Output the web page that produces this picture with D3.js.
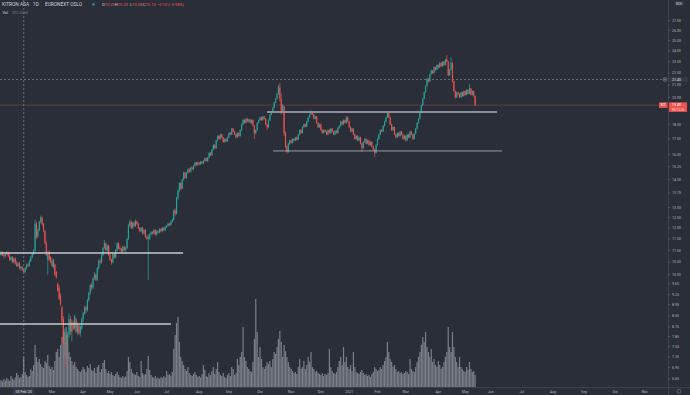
<!DOCTYPE html>
<html><head><meta charset="utf-8">
<script src="https://cdn.jsdelivr.net/npm/d3@7"></script>
<style>html,body{margin:0;padding:0;background:#2a2e39;overflow:hidden}</style>
</head><body><svg id="c" width="690" height="395"></svg>
<script>
// ---------- DATA (Kitron ASA, daily, NOK) ----------
const open=[10.70,10.85,10.75,10.85,10.80,10.85,10.80,10.90,10.80,10.75,10.85,10.90,10.75,10.60,10.70,10.50,10.65,10.45,10.35,10.45,10.25,10.30,10.20,10.10,10.25,10.40,10.35,10.55,10.70,10.85,
11.00,12.20,11.60,11.90,12.30,12.50,12.20,11.85,11.30,10.60,10.90,10.70,10.55,10.30,10.40,10.10,9.65,9.50,9.20,8.80,8.40,7.70,7.90,7.30,7.90,8.40,8.00,8.30,8.10,8.40,
8.00,8.20,7.95,8.10,8.40,8.60,8.80,8.70,9.05,9.30,9.60,9.50,9.85,10.00,9.80,10.25,10.55,10.50,10.80,11.10,11.30,11.00,11.20,10.80,10.60,10.50,10.85,10.70,11.00,11.30,
11.10,11.05,10.95,11.15,11.00,11.10,11.50,12.10,12.30,12.00,12.25,12.10,12.30,12.20,12.00,11.85,12.00,11.75,11.90,11.60,11.50,11.50,11.70,11.80,11.75,11.90,11.70,11.85,11.80,11.95,
11.85,12.00,11.90,12.05,12.10,12.20,12.15,12.30,12.40,12.85,12.70,13.50,13.90,14.30,14.00,14.50,14.90,14.60,14.90,15.10,14.95,15.20,15.10,15.30,15.50,15.35,15.50,15.40,15.55,15.45,
15.60,15.75,15.60,15.80,16.10,15.95,16.30,16.60,16.40,16.90,17.20,17.00,17.30,17.10,16.80,17.00,16.85,17.10,17.40,17.30,17.70,17.50,17.30,17.10,17.40,17.20,17.60,18.00,18.30,18.10,
18.40,18.20,18.35,18.10,18.30,17.90,17.40,17.60,18.10,18.30,18.50,18.30,18.55,18.40,18.00,17.80,18.30,18.70,18.90,19.20,19.60,19.90,20.30,20.80,19.90,18.90,19.30,17.40,16.50,16.15,
16.70,16.90,16.75,17.00,16.90,17.10,16.95,17.30,17.60,17.40,17.80,18.00,17.85,18.20,18.50,18.70,18.90,18.70,18.40,18.55,18.10,17.80,18.00,17.60,17.40,17.60,17.50,17.30,17.60,17.40,
17.70,17.50,17.30,17.55,17.40,17.75,17.90,18.20,18.00,18.30,18.10,18.50,18.20,17.80,17.50,17.70,17.30,17.00,17.20,16.90,17.10,16.70,16.40,16.80,17.00,16.70,16.90,16.60,16.80,16.50,
16.30,16.10,16.60,17.00,17.30,17.60,17.50,17.90,18.20,18.50,18.80,18.50,18.00,17.60,17.80,17.30,17.10,17.40,17.20,17.50,17.30,17.00,17.20,16.90,17.30,17.10,17.50,17.30,17.00,17.35,
17.70,18.10,18.40,18.90,19.40,19.90,20.40,20.90,21.50,21.30,21.90,22.20,22.00,22.50,22.30,22.70,22.50,22.90,22.60,23.00,22.70,23.20,23.00,21.80,22.30,22.90,21.30,20.50,20.00,20.40,
20.30,20.00,20.40,20.10,20.50,20.20,20.60,20.30,20.70,20.20,20.50,20.10];
const high=[10.90,10.95,10.90,10.95,10.90,10.95,10.95,10.95,10.85,10.90,10.95,10.95,10.85,10.75,10.75,10.70,10.70,10.55,10.50,10.50,10.35,10.35,10.20,10.30,10.45,10.45,10.60,10.75,10.90,11.05,
12.40,12.30,12.00,12.35,12.60,12.55,12.25,11.90,11.40,10.95,11.00,10.75,10.65,10.65,10.45,10.15,9.70,9.60,9.30,8.85,8.50,8.10,7.95,8.00,8.60,8.50,8.40,8.35,8.55,8.45,
8.30,8.25,8.20,8.45,8.65,8.85,8.85,9.10,9.35,9.65,9.70,9.90,10.10,10.05,10.30,10.60,10.65,10.85,11.15,11.45,11.35,11.25,11.25,10.85,10.65,10.90,10.90,11.05,11.35,11.35,
11.20,11.10,11.20,11.20,11.15,11.55,12.20,12.40,12.35,12.30,12.30,12.40,12.35,12.25,12.05,12.05,12.05,11.95,11.95,11.65,11.70,11.75,11.85,11.85,11.95,11.95,11.90,11.90,12.00,12.00,
12.05,12.05,12.10,12.15,12.25,12.25,12.35,12.45,12.90,12.95,13.55,13.95,14.35,14.35,14.55,14.95,14.95,14.95,15.15,15.15,15.25,15.25,15.35,15.55,15.55,15.55,15.55,15.60,15.60,15.65,
15.80,15.80,15.85,16.15,16.15,16.35,16.65,16.65,16.95,17.25,17.25,17.35,17.35,17.15,17.05,17.05,17.15,17.45,17.45,17.75,17.75,17.55,17.35,17.45,17.45,17.65,18.05,18.40,18.35,18.45,
18.45,18.40,18.40,18.35,18.35,17.95,17.65,18.15,18.35,18.55,18.55,18.60,18.60,18.45,18.05,18.35,18.75,18.95,19.25,19.65,19.95,20.35,21.00,21.15,20.30,19.50,19.35,17.50,16.60,16.75,
16.95,16.95,17.05,17.05,17.15,17.15,17.35,17.65,17.65,17.85,18.05,18.05,18.25,18.55,18.75,19.00,18.95,18.75,18.60,18.60,18.15,18.05,18.05,17.65,17.65,17.65,17.55,17.65,17.65,17.75,
17.75,17.55,17.60,17.60,17.80,17.95,18.25,18.25,18.35,18.35,18.60,18.55,18.25,17.85,17.75,17.75,17.35,17.25,17.25,17.15,17.15,16.75,16.85,17.05,17.05,16.95,16.95,16.85,16.85,16.55,
16.35,16.65,17.05,17.35,17.65,17.65,17.95,18.25,18.55,18.95,18.85,18.55,18.05,17.85,17.85,17.35,17.45,17.45,17.55,17.55,17.35,17.25,17.25,17.35,17.35,17.55,17.55,17.35,17.40,17.75,
18.15,18.45,18.95,19.45,19.95,20.45,20.95,21.60,21.55,21.95,22.30,22.25,22.55,22.55,22.75,22.75,22.95,22.95,23.05,23.05,23.25,23.60,23.05,22.35,23.40,22.95,21.35,20.55,20.45,20.45,
20.35,20.45,20.45,20.55,20.55,20.65,20.65,21.10,20.75,20.55,20.55,20.15];
const low=[10.65,10.70,10.70,10.75,10.70,10.70,10.75,10.75,10.65,10.70,10.80,10.70,10.55,10.55,10.45,10.45,10.40,10.30,10.30,10.20,10.15,10.15,10.08,10.05,10.20,10.30,10.30,10.50,10.65,10.80,
10.95,11.50,11.55,11.85,12.20,12.10,11.80,11.25,10.75,10.00,10.55,10.45,10.30,10.25,9.95,9.85,9.35,9.05,8.85,8.25,7.60,7.30,6.95,7.10,7.80,7.90,7.70,8.05,8.05,7.95,
7.90,7.90,7.85,8.05,8.30,8.55,8.60,8.65,9.00,9.25,9.40,9.45,9.80,9.75,9.75,10.20,10.40,10.45,10.75,11.05,10.95,10.90,10.75,10.55,10.40,10.45,10.65,10.65,10.95,11.05,
11.00,10.90,10.90,10.95,10.95,11.05,11.45,12.05,11.95,11.95,12.05,12.05,12.15,11.95,11.80,11.80,11.70,11.70,11.55,11.45,9.80,11.45,11.65,11.70,11.70,11.65,11.65,11.75,11.75,11.80,
11.80,11.85,11.85,12.00,12.05,12.10,12.10,12.25,12.35,12.60,12.65,13.40,13.80,13.90,13.95,14.45,14.55,14.55,14.85,14.90,14.90,15.05,15.05,15.25,15.30,15.30,15.35,15.35,15.40,15.40,
15.55,15.55,15.55,15.75,15.90,15.90,16.25,16.35,16.35,16.85,16.95,16.95,17.05,16.75,16.75,16.80,16.80,17.05,17.25,17.25,17.45,17.25,17.05,17.05,17.15,17.15,17.55,17.95,18.05,18.05,
18.15,18.15,18.05,18.05,17.85,17.00,17.30,17.55,18.05,18.25,18.25,18.25,18.35,17.95,17.60,17.75,18.25,18.65,18.85,19.15,19.55,19.85,20.20,19.70,18.70,18.80,17.20,16.40,16.05,16.10,
16.60,16.70,16.70,16.85,16.85,16.90,16.90,17.25,17.35,17.35,17.75,17.80,17.80,18.15,18.45,18.65,18.65,18.35,18.35,18.05,17.75,17.75,17.55,17.35,17.35,17.45,17.25,17.25,17.35,17.35,
17.45,17.25,17.25,17.35,17.35,17.70,17.85,17.95,17.95,18.05,18.05,18.15,17.75,17.45,17.45,17.25,16.95,16.95,16.85,16.85,16.65,16.15,16.35,16.75,16.65,16.65,16.55,16.55,16.45,16.25,
15.85,16.05,16.55,16.95,17.25,17.45,17.45,17.85,18.15,18.45,18.45,17.95,17.55,17.55,17.25,17.05,17.05,17.15,17.15,17.25,16.95,16.95,16.85,16.85,17.05,17.05,17.25,16.95,16.95,17.30,
17.65,18.05,18.35,18.85,19.35,19.85,20.35,20.85,21.20,21.25,21.85,21.90,21.95,22.20,22.25,22.40,22.45,22.55,22.55,22.65,22.65,22.95,21.75,21.75,22.25,21.20,20.45,19.90,19.95,20.15,
19.95,19.95,20.05,20.05,20.15,20.15,20.25,20.25,20.15,20.15,20.05,19.35];
const close=[10.85,10.75,10.85,10.80,10.85,10.80,10.90,10.80,10.75,10.85,10.90,10.75,10.60,10.70,10.50,10.65,10.45,10.35,10.45,10.25,10.30,10.20,10.10,10.25,10.40,10.35,10.55,10.70,10.85,11.00,
12.20,11.60,11.90,12.30,12.50,12.20,11.85,11.30,10.80,10.90,10.60,10.50,10.35,10.60,10.00,9.90,9.40,9.10,8.90,8.30,7.70,8.00,7.20,7.90,8.40,8.00,8.30,8.10,8.50,8.00,
8.25,7.95,8.15,8.40,8.60,8.80,8.70,9.05,9.30,9.60,9.50,9.85,10.00,9.80,10.25,10.55,10.50,10.80,11.10,11.30,11.00,11.20,10.80,10.60,10.50,10.85,10.70,11.00,11.30,11.10,
11.05,10.95,11.15,11.00,11.10,11.50,12.10,12.30,12.00,12.25,12.10,12.35,12.20,12.00,11.85,12.00,11.75,11.90,11.60,11.50,11.60,11.70,11.80,11.75,11.90,11.70,11.85,11.80,11.95,11.85,
12.00,11.90,12.05,12.10,12.20,12.15,12.30,12.40,12.85,12.70,13.50,13.90,14.30,14.00,14.50,14.90,14.60,14.90,15.10,14.95,15.20,15.10,15.30,15.50,15.35,15.50,15.40,15.55,15.45,15.60,
15.75,15.60,15.80,16.10,15.95,16.30,16.60,16.40,16.90,17.20,17.00,17.30,17.10,16.80,17.00,16.85,17.10,17.40,17.30,17.70,17.50,17.30,17.10,17.40,17.20,17.60,18.00,18.30,18.10,18.40,
18.20,18.35,18.10,18.30,17.90,17.40,17.60,18.10,18.30,18.50,18.30,18.55,18.40,18.00,17.80,18.30,18.70,18.90,19.20,19.60,19.90,20.30,20.80,19.90,18.90,19.40,17.40,16.50,16.15,16.70,
16.90,16.75,17.00,16.90,17.10,16.95,17.30,17.60,17.40,17.80,18.00,17.85,18.20,18.50,18.70,18.90,18.70,18.40,18.55,18.10,17.80,18.00,17.60,17.40,17.60,17.50,17.30,17.60,17.40,17.70,
17.50,17.30,17.55,17.40,17.75,17.90,18.20,18.00,18.30,18.10,18.50,18.20,17.80,17.50,17.70,17.30,17.00,17.20,16.90,17.10,16.70,16.40,16.80,17.00,16.70,16.90,16.60,16.80,16.50,16.30,
16.10,16.60,17.00,17.30,17.60,17.50,17.90,18.20,18.50,18.80,18.50,18.00,17.60,17.80,17.30,17.10,17.40,17.20,17.50,17.30,17.00,17.20,16.90,17.30,17.10,17.50,17.30,17.00,17.35,17.70,
18.10,18.40,18.90,19.40,19.90,20.40,20.90,21.50,21.30,21.90,22.20,22.00,22.50,22.30,22.70,22.50,22.90,22.60,23.00,22.70,23.20,23.00,21.80,22.30,22.90,21.30,20.50,20.00,20.40,20.30,
20.00,20.40,20.10,20.50,20.20,20.60,20.30,20.70,20.20,20.50,20.10,19.40];
const volume=[80,70,90,60,75,60,70,55,80,65,90,75,60,110,85,70,95,140,120,90,100,130,302.426,150,120,100,110,180,160,220,
420,300,250,280,230,200,190,260,240,320,210,180,200,170,260,350,380,300,420,500,560,450,600,480,350,300,260,220,250,200,
180,160,150,170,200,180,150,210,190,230,170,160,190,140,200,220,150,180,240,270,180,140,160,130,150,120,110,130,150,120,
100,90,110,95,105,160,300,250,180,140,130,120,150,110,100,260,140,120,130,180,310,170,120,100,90,110,85,95,80,100,
90,110,95,160,120,130,110,150,380,520,640,700,450,300,260,220,180,160,200,140,120,110,130,150,120,100,110,95,130,220,
170,110,100,140,120,160,200,130,180,250,150,120,110,140,100,90,120,140,110,200,180,120,140,280,220,300,350,600,300,260,
200,180,160,150,250,480,880,550,300,400,280,200,180,210,250,230,260,200,280,350,330,400,480,560,450,300,420,360,300,250,
200,180,160,140,150,130,200,280,180,200,260,180,220,300,250,350,200,180,150,160,140,130,120,140,110,130,120,140,380,200,
160,140,130,150,200,260,300,220,400,250,300,200,180,220,160,350,200,150,140,130,150,170,140,120,130,110,120,100,130,150,
200,180,160,170,200,180,220,260,300,450,350,280,250,200,220,180,150,160,140,150,130,140,160,150,130,280,180,160,150,200,
250,300,350,420,500,450,550,400,350,300,380,250,280,220,200,260,220,180,200,250,300,350,600,400,350,550,400,300,250,200,
300,200,180,160,150,200,170,250,180,150,160,120];
const holidays=["2020-01-01","2020-04-09","2020-04-10","2020-04-13","2020-05-01","2020-05-21","2020-06-01","2020-12-24","2020-12-25","2020-12-31",
"2021-01-01","2021-04-01","2021-04-02","2021-04-05","2021-05-13","2021-05-17","2021-05-24"];
const priceTicks=[27,26,25,24,23,22,21,20,18,17,16,15.25,14.5,13.75,13,12.5,12,11.5,11,10.5,10,9.65,9.25,8.9,8.5,8.15,7.85,7.55,7.25,6.95,6.65];
// user-drawn horizontal levels: [from bar, to bar, price]
const levels=[[-10,134.6,10.88],[-10,126,8.245],[193.9,356.5,18.89],[198.2,360,16.22]];
const crossBar=22, crossPrice=21.45, lastPrice=19.40;

// ---------- CHART ----------
const W=690,H=395,plotR=668,plotB=387;
const svg=d3.select("#c");
const FONT="Roboto, 'Open Sans', sans-serif";
svg.append("rect").attr("width",W).attr("height",H).attr("fill","#2a2e39");

// trading dates
const hol=new Set(holidays);
const dates=[];
for(let d=new Date(Date.UTC(2020,0,2)); d<=new Date(Date.UTC(2021,10,30)); d=new Date(d.getTime()+864e5)){
  const wd=d.getUTCDay(); const s=d.toISOString().slice(0,10);
  if(wd===0||wd===6||hol.has(s)) continue;
  dates.push(d);
}
const n=close.length;
const x=d3.scaleLinear().domain([0,n-1]).range([-7.4,-7.4+1.415*(n-1)]);
const y=d3.scaleLog().domain([6.444,29.27]).range([plotB,0]);
const yv=d3.scaleLinear().domain([0,1000]).range([plotB,plotB-100]);

svg.append("defs").append("clipPath").attr("id","clip").append("rect").attr("x",0).attr("y",0).attr("width",plotR).attr("height",plotB);
const g=svg.append("g").attr("clip-path","url(#clip)");

// volume
g.append("g").selectAll("rect").data(volume).join("rect")
  .attr("x",(d,i)=>x(i)-0.6).attr("width",1.2)
  .attr("y",d=>yv(d)).attr("height",d=>plotB-yv(d))
  .attr("fill","#8a8d97").attr("opacity",0.85);

// last price line
g.append("line").attr("x1",0).attr("x2",plotR).attr("y1",y(lastPrice)).attr("y2",y(lastPrice))
  .attr("stroke","#ef5350").attr("stroke-opacity",0.45).attr("stroke-width",0.7);

// crosshair
g.append("line").attr("x1",x(crossBar)).attr("x2",x(crossBar)).attr("y1",0).attr("y2",plotB)
  .attr("stroke","#9598a1").attr("stroke-width",0.6).attr("stroke-dasharray","2,2");
g.append("line").attr("x1",0).attr("x2",plotR).attr("y1",y(crossPrice)).attr("y2",y(crossPrice))
  .attr("stroke","#9598a1").attr("stroke-width",0.6).attr("stroke-dasharray","2,2");

// candles
const up="#26a69a",dn="#ef5350";
const cg=g.append("g");
for(let i=0;i<n;i++){
  const c=close[i]>=open[i]?up:dn;
  cg.append("line").attr("x1",x(i)).attr("x2",x(i)).attr("y1",y(high[i])).attr("y2",y(low[i]))
    .attr("stroke",c).attr("stroke-width",0.7);
  const top=y(Math.max(open[i],close[i])),bot=y(Math.min(open[i],close[i]));
  cg.append("rect").attr("x",x(i)-0.55).attr("width",1.1).attr("y",top).attr("height",Math.max(0.7,bot-top)).attr("fill",c);
}

// levels
const lvStyle=[["#c7c9cf",1.6],["#c7c9cf",1.6],["#8c8f98",1.8],["#a7a9b0",0.9]];
levels.forEach((l,k)=>{
  g.append("line").attr("x1",x(l[0])).attr("x2",x(l[1])).attr("y1",y(l[2])).attr("y2",y(l[2]))
   .attr("stroke",lvStyle[k][0]).attr("stroke-width",lvStyle[k][1]);
});

// axes frame
svg.append("line").attr("x1",plotR+0.5).attr("x2",plotR+0.5).attr("y1",0).attr("y2",H).attr("stroke","#434651").attr("stroke-width",0.8);
svg.append("line").attr("x1",0).attr("x2",W).attr("y1",plotB+0.5).attr("y2",plotB+0.5).attr("stroke","#434651").attr("stroke-width",0.8);

// price axis labels
const pa=svg.append("g");
priceTicks.forEach(t=>{
  const yy=y(t);
  pa.append("line").attr("x1",plotR).attr("x2",plotR+2).attr("y1",yy).attr("y2",yy).attr("stroke","#787b86").attr("stroke-width",0.5);
  pa.append("text").attr("x",plotR+4).attr("y",yy).attr("dy","0.35em").text(d3.format(".2f")(t))
    .attr("font-size",3.6).attr("fill","#b2b5be").attr("font-family",FONT);
});
// crosshair price label
const cy=y(crossPrice);
pa.append("rect").attr("x",plotR+1).attr("y",cy-2.6).attr("width",19).attr("height",5.2).attr("fill","#363a45");
pa.append("text").attr("x",plotR+4).attr("y",cy).attr("dy","0.35em").text(crossPrice.toFixed(2)).attr("font-size",3.6).attr("fill","#e0e3eb").attr("font-family",FONT);
pa.append("circle").attr("cx",plotR-3).attr("cy",cy).attr("r",2).attr("fill","#2a2e39").attr("stroke","#9598a1").attr("stroke-width",0.5);
pa.append("path").attr("d",`M${plotR-4.2},${cy}H${plotR-1.8}M${plotR-3},${cy-1.2}V${cy+1.2}`).attr("stroke","#b2b5be").attr("stroke-width",0.4);
// last price label
const ly=y(lastPrice);
pa.append("rect").attr("x",plotR-9).attr("y",ly-2.8).attr("width",8.5).attr("height",5.6).attr("fill","#ef5350");
pa.append("text").attr("x",plotR-4.8).attr("y",ly).attr("dy","0.35em").attr("text-anchor","middle").text("KIT").attr("font-size",3.4).attr("fill","#fff").attr("font-family",FONT);
pa.append("rect").attr("x",plotR+1).attr("y",ly-2.8).attr("width",18).attr("height",9.5).attr("fill","#ef5350");
pa.append("text").attr("x",plotR+4).attr("y",ly).attr("dy","0.35em").text(lastPrice.toFixed(2)).attr("font-size",3.6).attr("fill","#fff").attr("font-family",FONT);
pa.append("text").attr("x",plotR+4).attr("y",ly+4.3).attr("dy","0.35em").text("05:12:26").attr("font-size",3.2).attr("fill","#fff").attr("fill-opacity",0.85).attr("font-family",FONT);
// currency box
pa.append("rect").attr("x",plotR+6).attr("y",1.2).attr("width",10).attr("height",4.6).attr("fill","#363a45").attr("rx",0.6);
pa.append("text").attr("x",plotR+11).attr("y",3.5).attr("dy","0.35em").attr("text-anchor","middle").text("NOK").attr("font-size",3.0).attr("fill","#d1d4dc").attr("font-family",FONT);

// time axis
const ta=svg.append("g");
const fmt=d3.utcFormat("%b");
for(let i=1;i<dates.length;i++){
  if(dates[i].getUTCMonth()!==dates[i-1].getUTCMonth()){
    const xx=x(i); if(xx<5||xx>662) continue;
    if(i===crossBar) continue;
    const lab=dates[i].getUTCMonth()===0?String(dates[i].getUTCFullYear()):fmt(dates[i]);
    ta.append("text").attr("x",xx).attr("y",391.5).attr("dy","0.35em").attr("text-anchor","middle").text(lab)
      .attr("font-size",3.6).attr("fill","#b2b5be").attr("font-family",FONT);
  }
}
const cx=x(crossBar);
ta.append("rect").attr("x",cx-11).attr("y",388.3).attr("width",22).attr("height",6.4).attr("fill","#363a45");
ta.append("text").attr("x",cx).attr("y",391.5).attr("dy","0.35em").attr("text-anchor","middle").text("03 Feb '20")
  .attr("font-size",3.6).attr("fill","#e0e3eb").attr("font-family",FONT);
// settings icon
svg.append("circle").attr("cx",679).attr("cy",391.3).attr("r",1.9).attr("fill","none").attr("stroke","#9598a1").attr("stroke-width",0.5);

// header / legend
const hd=svg.append("g").attr("font-family",FONT);
const t1=hd.append("text").attr("x",2).attr("y",4.4).attr("dy","0.35em").attr("font-size",4.8).attr("fill","#d1d4dc");
t1.append("tspan").text("KITRON ASA");
t1.append("tspan").attr("x",33).text("1D");
t1.append("tspan").attr("x",45).text("EURONEXT OSLO");
hd.append("circle").attr("cx",93.5).attr("cy",4.4).attr("r",1.2).attr("fill","#26a69a");
const ohlc=[["O",102,"10.20"],["H",115,"10.20"],["L",130,"10.08"],["C",143,"10.10"]];
ohlc.forEach(o=>{
  const t=hd.append("text").attr("x",o[1]).attr("y",4.4).attr("dy","0.35em").attr("font-size",4.0);
  t.append("tspan").text(o[0]).attr("fill","#d1d4dc");
  t.append("tspan").text(o[2]).attr("fill","#ef5350");
});
hd.append("text").attr("x",157).attr("y",4.4).attr("dy","0.35em").attr("font-size",4.0).attr("fill","#ef5350").text("−0.10 (−0.98%)");
const t2=hd.append("text").attr("x",2.5).attr("y",12.4).attr("dy","0.35em").attr("font-size",3.8);
t2.append("tspan").text("Vol").attr("fill","#d1d4dc");
t2.append("tspan").attr("x",12).text("302.426K").attr("fill","#787b86");
</script></body></html>
